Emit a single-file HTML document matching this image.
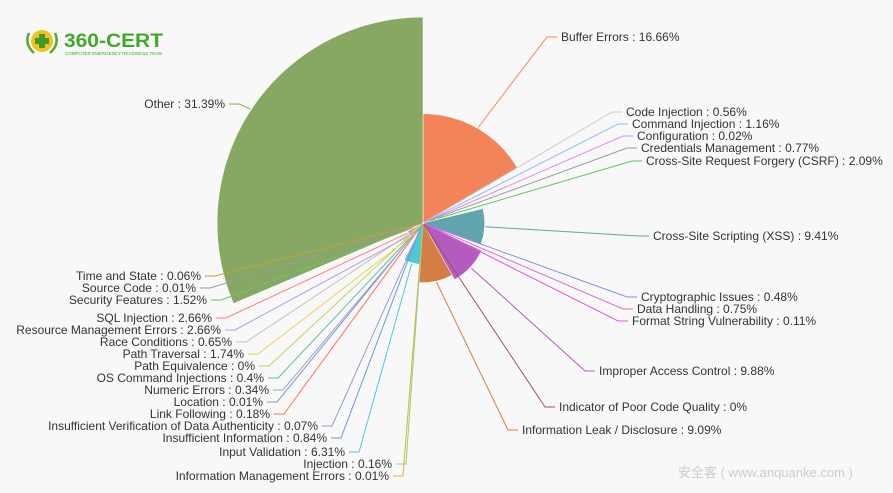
<!DOCTYPE html>
<html><head><meta charset="utf-8"><style>
html,body{margin:0;padding:0;background:#f8f8f8;}
svg{display:block;}
text{font-family:"Liberation Sans",sans-serif;font-size:12px;fill:#333;}
</style></head><body>
<svg id="s" width="893" height="493" viewBox="0 0 893 493" xmlns="http://www.w3.org/2000/svg">
<rect width="893" height="493" fill="#f8f8f8"/>
<g>
<circle cx="42" cy="41" r="11" fill="#f2c21a"/>
<path d="M29 33 Q24 44 34 53 M55 33 Q60 44 50 53" stroke="#5aa832" stroke-width="2.5" fill="none"/>
<rect x="39" y="34" width="6" height="14" fill="#3c9a2a"/><rect x="35" y="38" width="14" height="6" fill="#3c9a2a"/>
<text x="64" y="47" textLength="99" lengthAdjust="spacingAndGlyphs" style="font-size:19px;font-weight:bold;fill:#3daa2a;">360-CERT</text>
<text x="65" y="55" textLength="97" lengthAdjust="spacingAndGlyphs" style="font-size:4.5px;fill:#3daa2a;">COMPUTER EMERGENCY READINESS TEAM</text>
</g>
<g id="sl"></g>
<g id="ln" fill="none" stroke-width="1"></g>
<g id="tx"></g>
<text x="678" y="477" style="fill:#ccc;font-size:13px;">安全客 ( www.anquanke.com )</text>
</svg>
<script>
var cx=423,cy=223,k=6.56;
var d=[
["Buffer Errors",16.66,"#f3845a","R",561,37],
["Code Injection",0.56,"#cccccc","R",626,112],
["Command Injection",1.16,"#9ab8f0","R",632,124],
["Configuration",0.02,"#d98cf0","R",637,136],
["Credentials Management",0.77,"#999999","R",641,148],
["Cross-Site Request Forgery (CSRF)",2.09,"#5ac85a","R",646,161],
["Cross-Site Scripting (XSS)",9.41,"#61a4ad","R",653,236],
["Cryptographic Issues",0.48,"#8a8ae6","R",641,297],
["Data Handling",0.75,"#e06ec8","R",637,309],
["Format String Vulnerability",0.11,"#d95bd9","R",632,321],
["Improper Access Control",9.88,"#b55bbf","R",599,371],
["Indicator of Poor Code Quality",0,"#a05060","R",559,407],
["Information Leak / Disclosure",9.09,"#d47e45","R",522,430],
["Information Management Errors",0.01,"#e0b030","L",389,476],
["Injection",0.16,"#8fd08f","L",392,464],
["Input Validation",6.31,"#4dcad6","L",345,452],
["Insufficient Information",0.84,"#6699dd","L",327,438],
["Insufficient Verification of Data Authenticity",0.07,"#9999cc","L",318,426],
["Link Following",0.18,"#ff7060","L",270,414],
["Location",0.01,"#7c9ac0","L",263,402],
["Numeric Errors",0.34,"#9fa0d0","L",269,390],
["OS Command Injections",0.4,"#5bc0a0","L",264,378],
["Path Equivalence",0,"#c0d060","L",255,366],
["Path Traversal",1.74,"#f0d050","L",244,354],
["Race Conditions",0.65,"#c0c0c0","L",232,342],
["Resource Management Errors",2.66,"#b0a0e0","L",221,330],
["SQL Injection",2.66,"#ff7f7f","L",212,318],
["Security Features",1.52,"#6fbf6f","L",207,300],
["Source Code",0.01,"#999999","L",196,288],
["Time and State",0.06,"#c0a040","L",201,276],
["Other",31.39,"#87a862","L",225,104]];
var tot=0;d.forEach(function(e){tot+=e[1];});
var a=0,S="",L="",T="";
function pt(r,ang){return [cx+r*Math.sin(ang),cy-r*Math.cos(ang)];}
d.forEach(function(e){
 var a0=a,a1=a+e[1]/tot*2*Math.PI;a=a1;var r=e[1]*k;
 if(r>0.3){var p0=pt(r,a0),p1=pt(r,a1),lg=(a1-a0)>Math.PI?1:0;
 S+='<path d="M'+cx+' '+cy+'L'+p0[0].toFixed(1)+' '+p0[1].toFixed(1)+'A'+r+' '+r+' 0 '+lg+' 1 '+p1[0].toFixed(1)+' '+p1[1].toFixed(1)+'Z" fill="'+e[2]+'" stroke="#fff" stroke-width="0.5"/>';}
 var m=(a0+a1)/2,s=pt(r+1,m);
 var lbl=e[0]+" : "+e[1]+"%";
 if(e[3]=="R"){var x2=e[4]-4;
  L+='<polyline points="'+s[0].toFixed(1)+','+s[1].toFixed(1)+' '+(x2-10)+','+e[5]+' '+x2+','+e[5]+'" stroke="'+e[2]+'"/>';
  T+='<text x="'+e[4]+'" y="'+(e[5]+4)+'">'+lbl+'</text>';}
 else{var x2=e[4]+4;
  L+='<polyline points="'+s[0].toFixed(1)+','+s[1].toFixed(1)+' '+(x2+10)+','+e[5]+' '+x2+','+e[5]+'" stroke="'+e[2]+'"/>';
  T+='<text x="'+e[4]+'" y="'+(e[5]+4)+'" text-anchor="end">'+lbl+'</text>';}
});
document.getElementById("sl").innerHTML=S;
document.getElementById("ln").innerHTML=L;
document.getElementById("tx").innerHTML=T;
</script>
</body></html>
